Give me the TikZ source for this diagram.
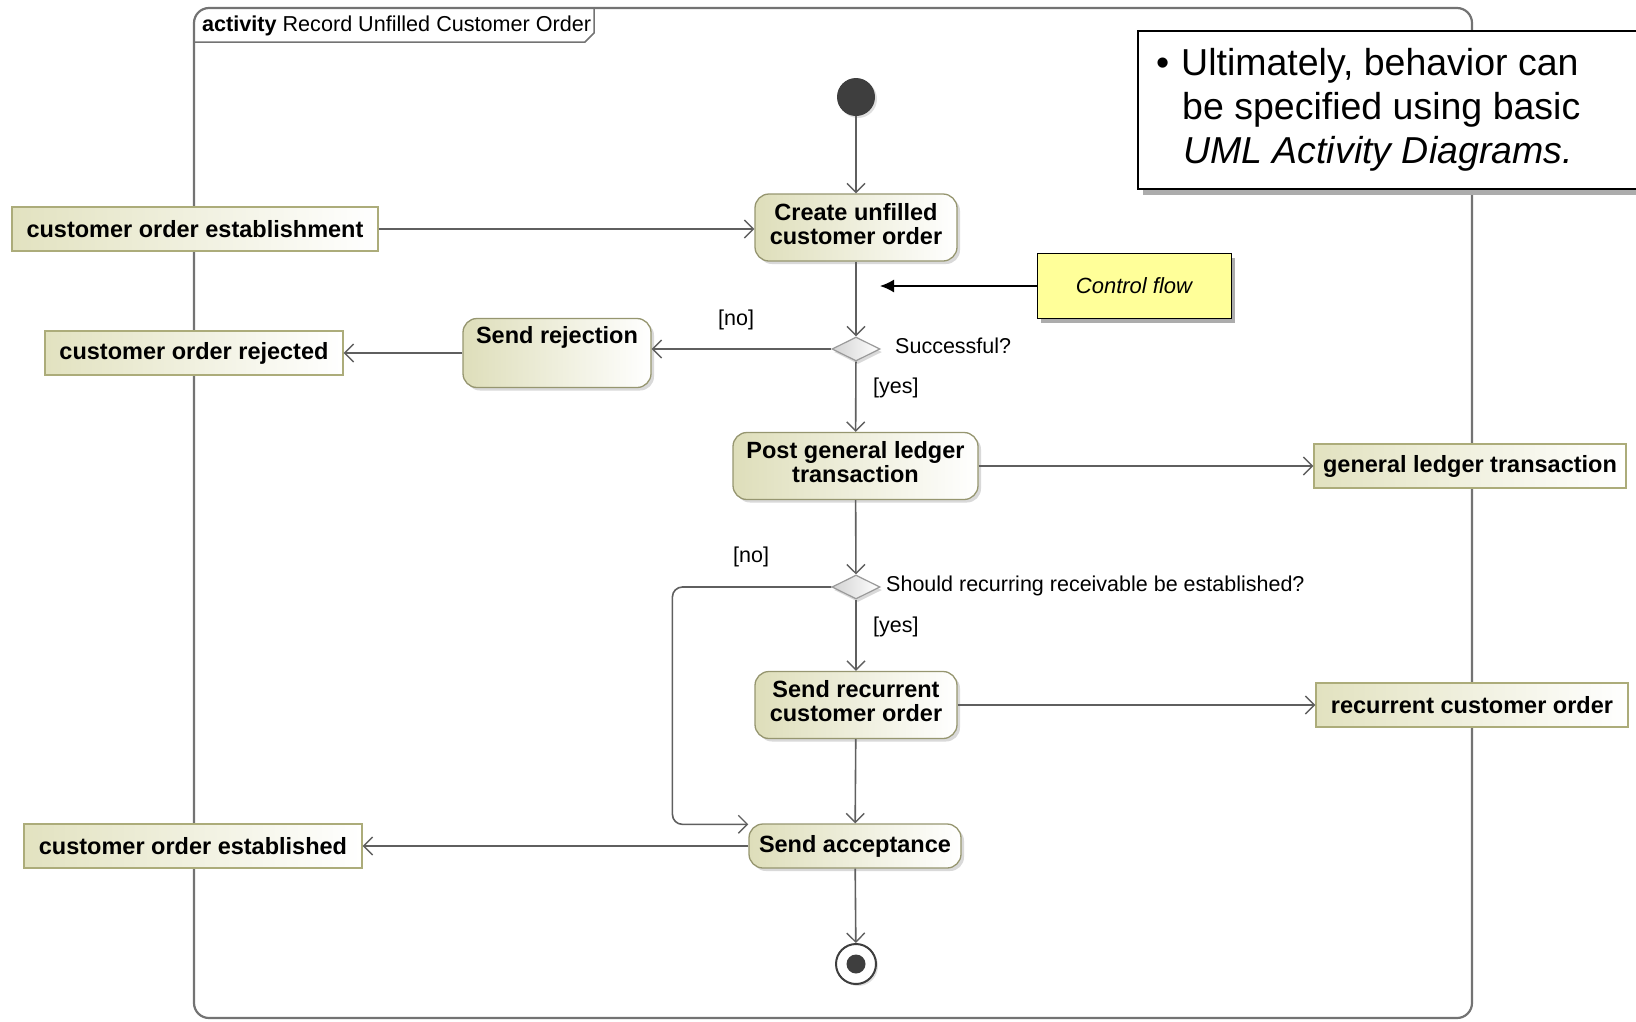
\documentclass[tikz,border=0pt]{standalone}
\usepackage{fontspec}
\setmainfont{Liberation Sans}
\usetikzlibrary{arrows.meta,shapes.geometric,shadows,calc}

\definecolor{flowgray}{RGB}{95,95,95}
\definecolor{actedge}{RGB}{150,150,112}
\definecolor{actfill}{RGB}{222,222,186}
\definecolor{objedge}{RGB}{172,172,122}
\definecolor{objfill}{RGB}{226,226,192}
\definecolor{framegray}{RGB}{115,115,115}
\definecolor{noteyellow}{RGB}{255,255,153}
\definecolor{nodedark}{RGB}{62,62,62}

\begin{document}
\begin{tikzpicture}[x=1pt,y=-1pt,
  flow/.style={draw=flowgray, line width=1.6pt,
    -{Straight Barb[length=9pt,width=18pt,line width=1.4pt]}},
  labelfont/.style={font=\fontsize{23.5}{24}\selectfont\bfseries},
  action/.style={rectangle, draw=actedge, line width=1.3pt, rounded corners=14pt,
    left color=actfill, right color=white, align=center, labelfont, inner sep=0pt,
    drop shadow={shadow xshift=3pt, shadow yshift=-3pt, opacity=0.3}},
  object/.style={rectangle, draw=objedge, line width=1.4pt,
    left color=objfill, right color=white, labelfont, inner sep=0pt,
    minimum height=44pt},
  decision/.style={diamond, draw=gray!80, line width=1.2pt, left color=gray!35,
    right color=white, minimum width=48pt, minimum height=24pt, inner sep=0pt,
    aspect=2, drop shadow={shadow xshift=2pt, shadow yshift=-3pt, opacity=0.3}},
  guard/.style={font=\fontsize{21.5}{22}\selectfont, inner sep=0pt, anchor=west},
  notefont/.style={font=\fontsize{37.5}{44}\selectfont, inner sep=0pt, anchor=base west}
]
\useasboundingbox (0,0) rectangle (1636,1021);

% activity frame and its name tab
\draw[framegray, line width=2.2pt, rounded corners=15pt] (194,8) rectangle (1472,1018);
\draw[framegray, line width=1.5pt] (194,42) -- (585,42) -- (594,33) -- (594,8);
\node[anchor=base west, inner sep=0pt, font=\fontsize{21.6}{22}\selectfont] (title)
  at (202,31) {\textbf{activity} Record Unfilled Customer Order};

% initial and final nodes
\node[circle, fill=nodedark, minimum size=38pt, inner sep=0pt,
  drop shadow={shadow xshift=2pt, shadow yshift=-2pt, opacity=0.25}] (start) at (856,97) {};
\node[circle, draw=nodedark, line width=2pt, fill=white, minimum size=40pt, inner sep=0pt,
  drop shadow={shadow xshift=2pt, shadow yshift=-2pt, opacity=0.25}] (end) at (856,964) {};
\node[circle, fill=nodedark, minimum size=19pt, inner sep=0pt] (endcore) at (end.center) {};

% actions
\node[action, minimum width=202pt, minimum height=67pt, text depth=8pt] (create) at (856,227.5)
  {Create unfilled\\customer order};
\node[action, minimum width=188pt, text height=17pt, text depth=36pt, inner ysep=8pt]
  (sendrej) at (557,353) {Send rejection};
\node[action, minimum width=245pt, minimum height=67pt, text depth=8pt] (post) at (855.5,466)
  {Post general ledger\\transaction};
\node[action, minimum width=202pt, minimum height=67pt, text depth=8pt] (sendrec) at (856,705)
  {Send recurrent\\customer order};
\node[action, minimum width=212pt, minimum height=44pt] (sendacc) at (855,846)
  {Send acceptance};

% decisions
\node[decision] (dec1) at (856,349) {};
\node[decision] (dec2) at (856,587) {};

% activity parameter nodes on the frame
\node[object, minimum width=366pt] (coe) at (195,229) {customer order establishment};
\node[object, minimum width=298pt] (cor) at (194,353) {customer order rejected};
\node[object, minimum width=312pt] (glt) at (1470,466) {general ledger transaction};
\node[object, minimum width=312pt] (rco) at (1472,705) {recurrent customer order};
\node[object, minimum width=338pt] (coest) at (193,846) {customer order established};

% control flows
\draw[flow] (start) -- (create);
\draw[flow] (coe.east) -- (coe.east -| create.west);
\draw[flow] (create) -- (dec1);
\draw[flow] (dec1.west) -- (dec1.west -| sendrej.east);
\draw[flow] (sendrej) -- (cor);
\draw[flow] (dec1) -- (post);
\draw[flow] (post) -- (glt);
\draw[flow] (post) -- (dec2);
\draw[flow] (dec2) -- (sendrec);
\draw[flow] (sendrec) -- (rco);
\draw[flow] (sendrec) -- (sendacc);
\draw[flow, rounded corners=10pt] (dec2.west) -- ++(-159,0) |- ([yshift=-1pt]sendacc.north west);
\draw[flow] (sendacc) -- (coest);
\draw[flow] (sendacc) -- (end);

% guards and decision questions
\node[guard] (g1no) at (718,320) {[no]};
\node[guard] (g1q) at (895,346) {Successful?};
\node[guard] (g1yes) at (873,388) {[yes]};
\node[guard] (g2no) at (733,557) {[no]};
\node[guard] (g2q) at (886,586) {Should recurring receivable be established?};
\node[guard] (g2yes) at (873,627) {[yes]};

% callout for the control flow
\node[rectangle, draw=black, line width=1pt, fill=noteyellow, minimum width=194pt,
  minimum height=65pt, inner sep=0pt, font=\itshape\fontsize{22}{22}\selectfont,
  drop shadow={shadow xshift=4pt, shadow yshift=-4pt, fill=gray!65, opacity=1}]
  (cfnote) at (1134,286) {Control flow};
\coordinate (cftip) at (880,286);
\draw[black, line width=1.5pt, -{Latex[length=14pt,width=13pt]}] (cfnote.west) -- (cftip);

% summary note
\node[rectangle, draw=black, line width=2.2pt, fill=white, anchor=north west,
  minimum width=520pt, minimum height=158pt, inner sep=0pt,
  drop shadow={shadow xshift=5pt, shadow yshift=-6pt, fill=gray!65, opacity=1}]
  (bignote) at (1137,30) {};
\node[notefont] (nbullet) at (1156,75) {•};
\node[notefont] (nline1) at (1181,75) {Ultimately, behavior can};
\node[notefont] (nline2) at (1182,119) {be specified using basic};
\node[notefont] (nline3) at (1183,163) {\textit{UML Activity Diagrams.}};
\end{tikzpicture}
\end{document}
